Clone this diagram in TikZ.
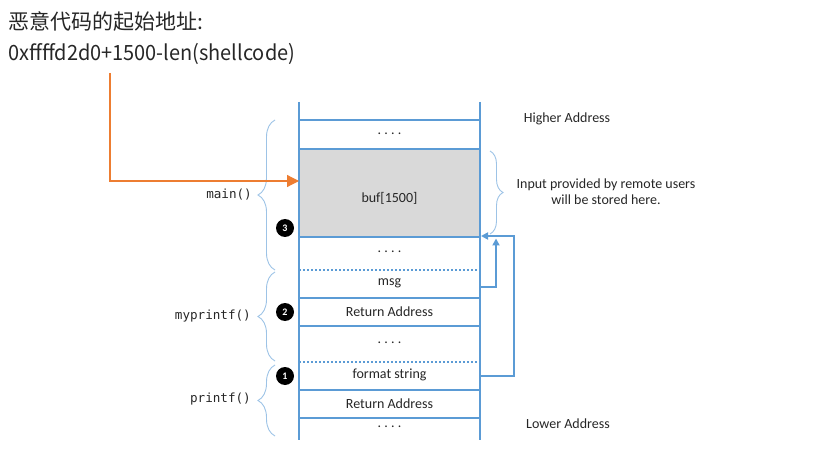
\documentclass[tikz,border=0pt]{standalone}
\usepackage{fontspec}
\setmainfont{Carlito}
\setmonofont{DejaVu Sans Mono}
\newfontfamily\cjk{Noto Sans CJK SC}
\usetikzlibrary{decorations.pathreplacing,arrows.meta}
\definecolor{stackblue}{HTML}{5B9BD5}
\definecolor{bracblue}{HTML}{9DC3E6}
\definecolor{orng}{HTML}{ED7D31}
\definecolor{cellgray}{HTML}{D9D9D9}
\definecolor{txtdark}{HTML}{262626}
\newcommand{\dotsx}{.\hspace{3.2pt}.\hspace{3.2pt}.\hspace{3.2pt}.}
\begin{document}
\begin{tikzpicture}[x=1pt,y=-1pt,
  stackline/.style={draw=stackblue,line width=1.6pt},
  dotline/.style={draw=stackblue,line width=1.4pt,dash pattern=on 2pt off 2pt},
  celltext/.style={font=\fontsize{14}{14}\selectfont,text=txtdark,inner sep=0pt},
  fnlabel/.style={font=\ttfamily\fontsize{12.6}{13}\selectfont,text=txtdark,inner sep=0pt,anchor=east},
  sidetext/.style={font=\fontsize{14}{16}\selectfont,text=txtdark,inner sep=0pt,align=center},
  brc/.style={draw=bracblue,line width=0.9pt,decorate,decoration={brace,amplitude=#1}},
  badge/.style={circle,fill=black,text=white,inner sep=0pt,minimum size=18pt,font=\bfseries\fontsize{10}{10}\selectfont},
  bluearrow/.style={draw=stackblue,line width=2pt,-{Triangle[length=7pt,width=7pt]}},
  orangearrow/.style={draw=orng,line width=1.2pt,-{Triangle[length=12pt,width=12pt]}}
]
\useasboundingbox (0,0) rectangle (832,462);

% title text
\node[anchor=base west,inner sep=0pt,font=\cjk\fontsize{21}{21}\selectfont,text=txtdark] (title) at (8,30) {恶意代码的起始地址:};
\node[anchor=base west,inner sep=0pt,font=\cjk\fontsize{21}{21}\selectfont,text=txtdark,xscale=0.95] (addr) at (8,61) {0xffffd2d0+1500-len(shellcode)};

% gray buffer
\fill[cellgray] (299,149) rectangle (480,237);

% stack vertical lines
\draw[stackline] (299,102) -- (299,440);
\draw[stackline] (480,102) -- (480,440);
% horizontal lines
\foreach \yy in {120,149,237,298,326,390,418}
  \draw[stackline] (299,\yy) -- (480,\yy);
\foreach \yy in {270,362}
  \draw[dotline] (299,\yy) -- (480,\yy);

% cell texts
\node[celltext] (c1) at (389.5,134) {\dotsx};
\node[celltext] (buf) at (389.5,198) {buf[1500]};
\coordinate (bufwest) at (299,181);
\node[celltext] (c3) at (389.5,252) {\dotsx};
\node[celltext] (msg) at (389.5,283) {msg};
\node[celltext] (ra1) at (389.5,312) {Return Address};
\node[celltext] (c6) at (389.5,343) {\dotsx};
\node[celltext] (fmt) at (389.5,375) {format string};
\node[celltext] (ra2) at (389.5,404) {Return Address};
\node[celltext] (c9) at (389.5,427) {\dotsx};

% side labels
\node[sidetext] (high) at (567,119) {Higher Address};
\node[sidetext] (low) at (568,424) {Lower Address};
\node[sidetext] (input) at (606,192) {Input provided by remote users\\will be stored here.};

% braces
\draw[brc=17pt] (275,270) -- (275,120);
\draw[brc=17pt] (275,361) -- (275,272);
\draw[brc=17pt] (275,436) -- (275,365);
\draw[brc=13pt] (490,151) -- (490,234);

% function labels
\node[fnlabel] (fmain) at (252,195) {main()};
\node[fnlabel] (fmy) at (251,316) {myprintf()};
\node[fnlabel] (fpr) at (251,399) {printf()};

% badges
\node[badge] (b3) at (285,228) {3};
\node[badge] (b2) at (285,312) {2};
\node[badge] (b1) at (285,376) {1};

% orange arrow
\coordinate (ostart) at (110,73);
\draw[orangearrow] (ostart) |- (bufwest);

% blue arrows
\coordinate (msgE) at (480,287);
\coordinate (fmtE) at (480,376);
\coordinate (bufSE) at (481,236);
\draw[bluearrow] (msgE) -- (496,287) -- (496,238.5);
\draw[bluearrow] (fmtE) -- (514,376) -- (514,236) -- (bufSE);
\end{tikzpicture}
\end{document}
